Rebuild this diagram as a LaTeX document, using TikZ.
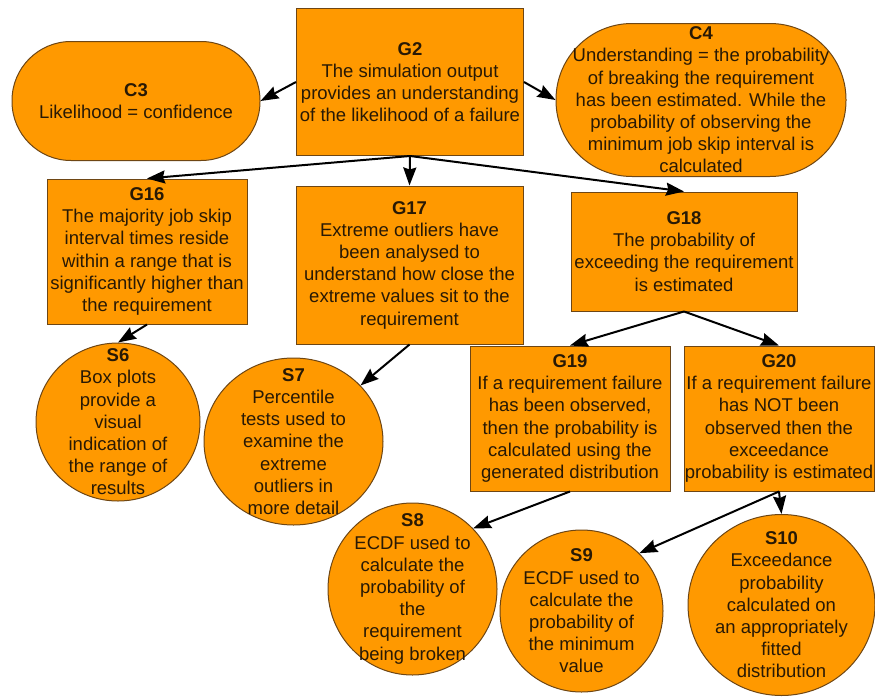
\documentclass[tikz,border=0pt]{standalone}
\usepackage{fontspec}
\setmainfont{Liberation Sans}
\usetikzlibrary{arrows.meta,shapes.geometric}
\definecolor{gsnfill}{RGB}{255,153,0}
\definecolor{gsnline}{RGB}{110,70,20}
\definecolor{gsntext}{RGB}{40,25,5}
\begin{document}
\begin{tikzpicture}[x=1pt,y=-1pt,
    every node/.style={font=\fontsize{18.5}{22.2}\selectfont, text=gsntext, align=center, inner sep=0pt},
    goal/.style={draw=gsnline, fill=gsnfill, line width=1pt, rectangle},
    context/.style={draw=gsnline, fill=gsnfill, line width=1pt, rectangle},
    strat/.style={draw=gsnline, fill=gsnfill, line width=1pt, ellipse},
    arr/.style={black, line width=2pt, -{Stealth[length=18pt,width=13pt,inset=2pt]}}]
     \useasboundingbox (0,0) rectangle (875,696);
     \node[goal, minimum width=227pt, minimum height=147pt] (G2) at (410,82) {\textbf{G2}\\The simulation output\\provides an understanding\\of the likelihood of a failure};
     \node[context, minimum width=248pt, minimum height=119pt, rounded corners=59pt] (C3) at (136,101) {\textbf{C3}\\Likelihood = confidence};
     \node[context, minimum width=290pt, minimum height=153pt, rounded corners=76pt] (C4) at (701,100) {\textbf{C4}\\Understanding = the probability\\of breaking the requirement\\has been estimated. While the\\probability of observing the\\minimum job skip interval is\\calculated};
     \node[goal, minimum width=200pt, minimum height=145pt] (G16) at (147,251.5) {\textbf{G16}\\The majority job skip\\interval times reside\\within a range that is\\significantly higher than\\the requirement};
     \node[goal, minimum width=227pt, minimum height=158pt] (G17) at (409.5,265) {\textbf{G17}\\Extreme outliers have\\been analysed to\\understand how close the\\extreme values sit to the\\requirement};
     \node[goal, minimum width=226pt, minimum height=119pt] (G18) at (684,251.5) {\textbf{G18}\\The probability of\\exceeding the requirement\\is estimated};
     \node[goal, minimum width=200pt, minimum height=145pt] (G19) at (570,418.5) {\textbf{G19}\\If a requirement failure\\has been observed,\\then the probability is\\calculated using the\\generated distribution};
     \node[goal, minimum width=190pt, minimum height=145pt] (G20) at (779,418.5) {\textbf{G20}\\If a requirement failure\\has NOT been\\observed then the\\exceedance\\probability is estimated};
     \node[strat, minimum width=164pt, minimum height=158pt, label={center:{\textbf{S6}\\Box plots\\provide a\\visual\\indication of\\the range of\\results}}] (S6) at (118,422) {};
     \node[strat, minimum width=179pt, minimum height=167pt, label={center:{\textbf{S7}\\Percentile\\tests used to\\examine the\\extreme\\outliers in\\more detail}}] (S7) at (293.5,441.5) {};
     \node[strat, minimum width=169pt, minimum height=172pt, label={center:{\textbf{S8}\\ECDF used to\\calculate the\\probability of\\the\\requirement\\being broken}}] (S8) at (412.5,589) {};
     \node[strat, minimum width=163pt, minimum height=162pt, label={center:{\textbf{S9}\\ECDF used to\\calculate the\\probability of\\the minimum\\value}}] (S9) at (581.5,611) {};
     \node[strat, minimum width=187pt, minimum height=181pt, label={center:{\textbf{S10}\\Exceedance\\probability\\calculated on\\an appropriately\\fitted\\distribution}}] (S10) at (781.5,605) {};
     \draw[arr] (G2.west) -- (C3.east);
     \draw[arr] (G2.east) -- (C4.west);
     \draw[arr] (G2.south) -- (G16.north);
     \draw[arr] (G2.south) -- (G17.north);
     \draw[arr] (G2.south) -- (G18.north);
     \draw[arr] (G16.south) -- (S6.north);
     \draw[arr] (G17.south) -- (S7);
     \draw[arr] (G18.south) -- (G19.north);
     \draw[arr] (G18.south) -- (G20.north);
     \draw[arr] (G19.south) -- (S8.45);
     \draw[arr] (G20.south) -- (S9.45);
     \draw[arr] (G20.south) -- (S10.north);
\end{tikzpicture}
\end{document}
